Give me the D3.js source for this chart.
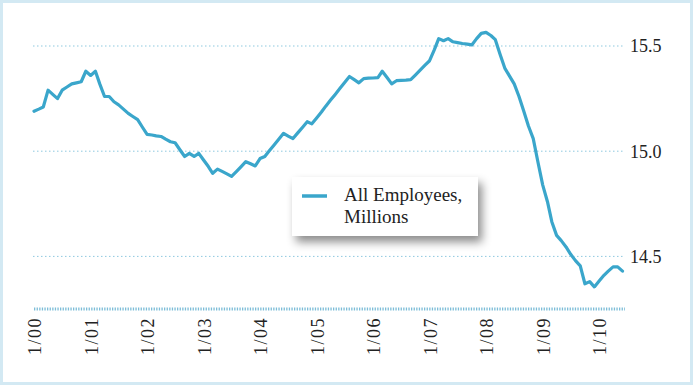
<!DOCTYPE html>
<html>
<head>
<meta charset="utf-8">
<script src="https://cdn.jsdelivr.net/npm/d3@7"></script>
<style>
  html, body { margin: 0; padding: 0; background: #fff; }
  svg { display: block; }
</style>
</head>
<body>
<svg id="chart" width="693" height="385"></svg>
<script>
// ---- data ----
const startMonth = "2000-01";           // first monthly observation (Jan 2000)
const employees = [                      // All Employees, millions, monthly Jan 2000 – Jun 2010
  15.19, 15.20, 15.21, 15.29, 15.27, 15.25, 15.29, 15.305, 15.32, 15.325, 15.33, 15.38,
  15.36, 15.38, 15.32, 15.26, 15.26, 15.235, 15.22, 15.20, 15.18, 15.165, 15.15, 15.115,
  15.08, 15.077, 15.073, 15.07, 15.057, 15.045, 15.04, 15.007, 14.975, 14.99, 14.975, 14.99,
  14.958, 14.927, 14.895, 14.915, 14.904, 14.892, 14.88, 14.903, 14.927, 14.95, 14.94, 14.93,
  14.965, 14.975, 15.002, 15.03, 15.057, 15.085, 15.072, 15.06, 15.087, 15.113, 15.14, 15.13,
  15.158, 15.186, 15.214, 15.243, 15.27, 15.299, 15.327, 15.355, 15.34, 15.325, 15.345, 15.347,
  15.348, 15.35, 15.38, 15.35, 15.32, 15.335, 15.337, 15.338, 15.34, 15.362, 15.385, 15.408,
  15.43, 15.483, 15.535, 15.525, 15.535, 15.52, 15.516, 15.512, 15.509, 15.505, 15.535, 15.56,
  15.565, 15.55, 15.53, 15.46, 15.395, 15.357, 15.32, 15.26, 15.19, 15.12, 15.06, 14.95,
  14.84, 14.76, 14.665, 14.60, 14.575, 14.545, 14.51, 14.48, 14.455, 14.37, 14.38, 14.355,
  14.383, 14.41, 14.43, 14.45, 14.45, 14.43
];
const xTickYears = [2000, 2001, 2002, 2003, 2004, 2005, 2006, 2007, 2008, 2009, 2010];
const xTickLabels = ["1/00", "1/01", "1/02", "1/03", "1/04", "1/05", "1/06", "1/07", "1/08", "1/09", "1/10"];
const yTicks = [14.5, 15.0, 15.5];
const yTickLabels = ["14.5", "15.0", "15.5"];
const yDomain = [14.25, 15.5];
const legendLines = ["All Employees,", "Millions"];

// ---- build ----
const parseMonth = d3.timeParse("%Y-%m");
const t0 = parseMonth(startMonth);
const series = employees.map((v, i) => ({ date: d3.timeMonth.offset(t0, i), value: v }));

const W = 693, H = 385;
const svg = d3.select("#chart");
const lineColor = "#3aa6cb";
const serif = "'Liberation Serif', 'DejaVu Serif', serif";

const x = d3.scaleTime()
  .domain([series[0].date, series[series.length - 1].date])
  .range([34, 622.5]);
const y = d3.scaleLinear().domain(yDomain).range([309, 46]);

const defs = svg.append("defs");
const f = defs.append("filter").attr("id", "shadow")
  .attr("x", "-20%").attr("y", "-30%").attr("width", "150%").attr("height", "180%");
f.append("feDropShadow").attr("dx", 4).attr("dy", 6).attr("stdDeviation", 5)
  .attr("flood-color", "#000").attr("flood-opacity", 0.45);

// background + frame
svg.append("rect").attr("x", 0).attr("y", 0).attr("width", W).attr("height", H).attr("fill", "#fff");
svg.append("rect").attr("x", 1.5).attr("y", 1.5).attr("width", W - 3).attr("height", H - 3)
  .attr("fill", "none").attr("stroke", "#d3e9f3").attr("stroke-width", 3);

// gridlines
const xLeft = 33, xRight = 625;
svg.append("g").selectAll("line").data(yTicks).join("line")
  .attr("x1", xLeft).attr("x2", xRight)
  .attr("y1", d => y(d)).attr("y2", d => y(d))
  .attr("stroke", "#8fc9df").attr("stroke-width", 1).attr("stroke-dasharray", "1.5,2.5");

// y labels (right)
svg.append("g").selectAll("text").data(yTicks).join("text")
  .attr("x", 630).attr("y", d => y(d)).attr("dy", "0.35em")
  .attr("font-family", serif).attr("font-size", 18).attr("fill", "#222")
  .text((d, i) => yTickLabels[i]);

// bottom axis (dotted)
svg.append("line").attr("x1", xLeft + 1).attr("x2", xRight)
  .attr("y1", 309).attr("y2", 309)
  .attr("stroke", "#7dbdd8").attr("stroke-width", 3).attr("stroke-dasharray", "1.3,1.3");

// x labels rotated
const xAxis = d3.axisBottom(x)
  .tickValues(xTickYears.map(yr => new Date(yr, 0, 1)))
  .tickFormat((d, i) => xTickLabels[i])
  .tickSize(0);
const gx = svg.append("g").attr("transform", "translate(0,309)").call(xAxis);
gx.select(".domain").remove();
gx.selectAll("text")
  .attr("font-family", serif).attr("font-size", 18).attr("fill", "#222")
  .attr("letter-spacing", "1.5px")
  .attr("text-anchor", "end")
  .attr("transform", "rotate(-90)")
  .attr("x", -8).attr("y", 0).attr("dy", "0.36em");

// line
const line = d3.line().x(d => x(d.date)).y(d => y(d.value)).curve(d3.curveLinear);
svg.append("path").datum(series)
  .attr("d", line).attr("fill", "none").attr("stroke", lineColor)
  .attr("stroke-width", 3.2).attr("stroke-linejoin", "round").attr("stroke-linecap", "round");

// legend
const lg = svg.append("g").attr("transform", "translate(292,177)");
lg.append("rect").attr("width", 186).attr("height", 59).attr("fill", "#fff").attr("filter", "url(#shadow)");
lg.append("line").attr("x1", 10).attr("x2", 35).attr("y1", 19).attr("y2", 19)
  .attr("stroke", lineColor).attr("stroke-width", 3.5);
lg.selectAll("text.leg").data(legendLines).join("text").attr("class", "leg")
  .attr("x", 52).attr("y", (d, i) => 24 + i * 22)
  .attr("font-family", serif).attr("font-size", 19).attr("fill", "#222")
  .text(d => d);
</script>
</body>
</html>
